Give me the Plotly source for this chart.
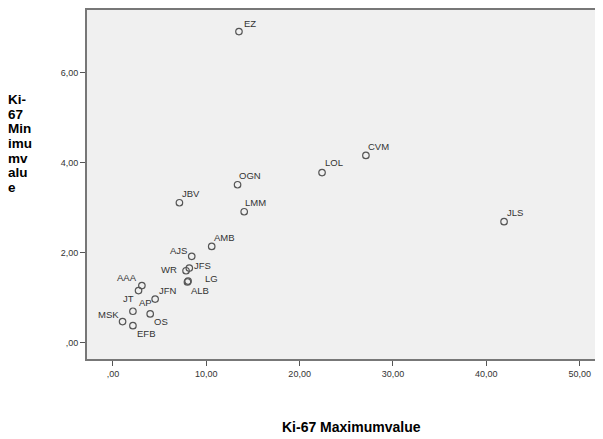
import plotly.graph_objects as go

labels = ["EZ", "CVM", "LOL", "JLS", "OGN", "LMM", "JBV", "AMB", "AJS", "JFS",
          "WR", "LG", "ALB", "AAA", "JT", "JFN", "AP", "OS", "MSK", "EFB"]
ki67_max = [13.5, 27.1, 22.4, 41.9, 13.35, 14.06, 7.12, 10.58, 8.44, 8.18,
            7.83, 8.05, 7.98, 3.10, 2.74, 4.52, 2.14, 3.99, 1.03, 2.14]
ki67_min = [6.91, 4.16, 3.78, 2.69, 3.51, 2.91, 3.11, 2.14, 1.92, 1.66,
            1.60, 1.37, 1.35, 1.27, 1.16, 0.97, 0.70, 0.64, 0.47, 0.38]
x_ticks = [0, 10, 20, 30, 40, 50]
x_tick_labels = [",00", "10,00", "20,00", "30,00", "40,00", "50,00"]
y_ticks = [0, 2, 4, 6]
y_tick_labels = [",00", "2,00", "4,00", "6,00"]
x_title = "Ki-67 Maximumvalue"
y_title_lines = ["Ki-", "67", "Min", "imu", "mv", "alu", "e"]

# label placement (style): pixel offsets from the marker, and which side the text is anchored on
lbl_dx = [4, 1, 2, 2, 0, 0, 2, 1, -4, 4, -8, 16, 3, -4, -4, 3, 5, 3, -3, 3]
lbl_dy = [-8, -9, -10, -9, -9, -9, -9, -9, -6, -3, -1, -3, 9, -8, 8, -9, -9, 8, -7, 8]
lbl_side = ["left", "left", "left", "left", "left", "left", "left", "left", "right", "left",
            "right", "left", "left", "right", "right", "left", "left", "left", "right", "left"]

# plot area geometry in pixels (for placing the titles)
PLOT_LEFT, PLOT_TOP, PLOT_W, PLOT_H = 87, 10, 516, 349

fig = go.Figure()
fig.add_trace(go.Scatter(
    x=ki67_max, y=ki67_min, mode="markers",
    marker=dict(symbol="circle-open", size=6.5, color="#555555", line=dict(width=1.2, color="#555555")),
    cliponaxis=False, showlegend=False, hoverinfo="skip",
))

annotations = []
for name, xv, yv, dx, dy, side in zip(labels, ki67_max, ki67_min, lbl_dx, lbl_dy, lbl_side):
    annotations.append(dict(
        text=name, x=xv, y=yv, xref="x", yref="y", showarrow=False,
        xanchor=side, yanchor="middle", xshift=dx, yshift=-dy, borderpad=0,
        font=dict(family="Liberation Sans, Arial, sans-serif", size=9.5, color="#333333"),
    ))

annotations.append(dict(
    text="<b>" + x_title + "</b>", xref="paper", yref="paper",
    x=(351.7 - PLOT_LEFT) / PLOT_W, y=(PLOT_TOP + PLOT_H - 427) / PLOT_H,
    xanchor="center", yanchor="middle", showarrow=False, borderpad=0,
    font=dict(family="Liberation Sans, Arial, sans-serif", size=14, color="black")))

# y title: tight wrapped lines (glyphs 13.5px, line pitch from the 11.3px base font)
y_title_text = "<br>".join('<span style="font-size:13.5px"><b>' + s + "</b></span>" for s in y_title_lines)
annotations.append(dict(
    text=y_title_text, xref="paper", yref="paper",
    x=(6.5 - PLOT_LEFT) / PLOT_W, y=(PLOT_TOP + PLOT_H - 143) / PLOT_H,
    xanchor="left", yanchor="middle", align="left", showarrow=False, borderpad=0,
    font=dict(family="Liberation Sans, Arial, sans-serif", size=11.3, color="black")))

fig.update_layout(
    width=603, height=439,
    margin=dict(l=79, r=8, t=2, b=88),
    paper_bgcolor="white", plot_bgcolor="#F0F0F0",
    font=dict(family="Liberation Sans, Arial, sans-serif", size=9, color="#333333"),
    xaxis=dict(range=[-2.78, 52.5], tickvals=x_ticks, ticktext=x_tick_labels,
               showgrid=False, zeroline=False, ticks="outside", ticklen=5,
               tickcolor="#555555", showline=True, linecolor="#777777", linewidth=2,
               mirror=True, automargin=False, tickfont=dict(size=9, color="#333333")),
    yaxis=dict(range=[-0.36, 7.39], tickvals=y_ticks, ticktext=y_tick_labels,
               showgrid=False, zeroline=False, ticks="outside", ticklen=5,
               tickcolor="#555555", showline=True, linecolor="#777777", linewidth=2,
               mirror=True, automargin=False, tickfont=dict(size=9, color="#333333")),
    annotations=annotations,
)

fig.write_html("out.html")
